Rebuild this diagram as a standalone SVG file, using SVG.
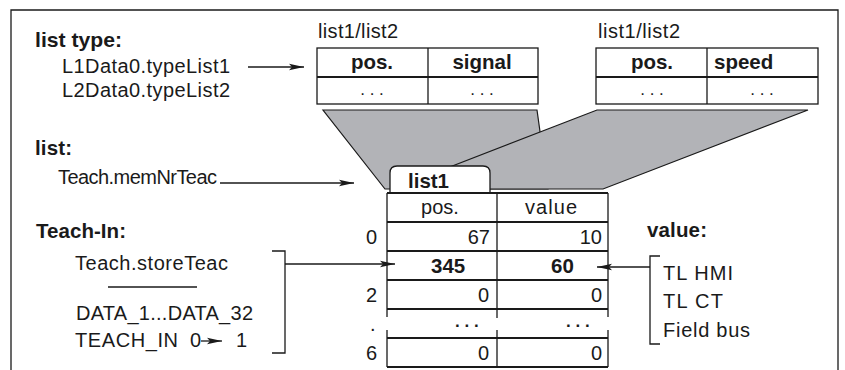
<svg xmlns="http://www.w3.org/2000/svg" width="845" height="370" viewBox="0 0 845 370">
<style>
text{font-family:"Liberation Sans",Arial,sans-serif;fill:#1a1a1a}
.t{font-size:20px}
.b{font-size:20.5px;font-weight:bold}
.m{font-size:17px}
.mb{font-size:17px;font-weight:bold}
.ln{stroke:#1a1a1a;stroke-width:1.3;fill:none}
.thick{stroke:#1a1a1a;stroke-width:2.2;fill:none}
.gray{fill:#b2b3b7;stroke:#1a1a1a;stroke-width:1.2}
.c{text-anchor:middle}
.r{text-anchor:end}
</style>
<defs>
<marker id="ah" markerUnits="userSpaceOnUse" markerWidth="16" markerHeight="8" refX="15" refY="4" orient="auto">
<path d="M0,0.8 L15,4 L0,7.2 L3,4 Z" fill="#1a1a1a"/>
</marker>
</defs>
<rect width="845" height="370" fill="#fff"/>
<g id="frame"><path class="ln" d="M11,372 V10 H838 V372" stroke-width="1.5"/></g>

<g id="funnel">
<polygon class="gray" points="323,110 537,110 548,189 385,189"/>
<polygon class="gray" points="597,110 808,110 603,189 393,189"/>
</g>

<g id="labels-left">
<text class="b" x="35" y="47" textLength="87" lengthAdjust="spacingAndGlyphs">list type:</text>
<text class="t" x="62" y="73" textLength="168">L1Data0.typeList1</text>
<text class="t" x="62" y="97" textLength="168">L2Data0.typeList2</text>
<text class="b" x="35" y="155" textLength="37">list:</text>
<text class="t" x="58" y="184" textLength="159">Teach.memNrTeac</text>
<text class="b" x="36" y="238" textLength="90">Teach-In:</text>
<text class="t" x="75" y="270" textLength="153">Teach.storeTeac</text>
<line class="ln" x1="108" y1="287" x2="197" y2="287"/>
<text class="t" x="76" y="320" textLength="177">DATA_1...DATA_32</text>
<text class="t" x="75" y="347" textLength="103">TEACH_IN</text>
<text class="t" x="190" y="347">0</text>
<line class="ln" x1="201" y1="341" x2="222" y2="341" marker-end="url(#ah)"/>
<text class="t" x="236" y="347">1</text>
</g>

<g id="table-type1">
<text class="t" x="318" y="38" textLength="80">list1/list2</text>
<rect class="ln" x="317" y="48" width="221" height="56"/>
<line class="thick" x1="317" y1="77" x2="538" y2="77" stroke-width="2.6"/>
<line class="ln" x1="428" y1="48" x2="428" y2="104"/>
<text class="b c" x="372" y="69">pos.</text>
<text class="b c" x="482" y="69">signal</text>
<text class="m c" x="372" y="95">. . .</text>
<text class="m c" x="482" y="95">. . .</text>
</g>

<g id="table-type2">
<text class="t" x="598" y="38" textLength="82">list1/list2</text>
<rect class="ln" x="596" y="48" width="222" height="56"/>
<line class="thick" x1="596" y1="77" x2="818" y2="77" stroke-width="2.6"/>
<line class="ln" x1="707" y1="48" x2="707" y2="104"/>
<text class="b c" x="652" y="69">pos.</text>
<text class="b" x="714" y="69">speed</text>
<text class="m c" x="652" y="95">. . .</text>
<text class="m c" x="762" y="95">. . .</text>
</g>

<g id="list1">
<path d="M390,193 V173 Q390,166 397,166 H483 Q490,166 490,173 V193" fill="#fff" stroke="#1a1a1a" stroke-width="1.3"/>
<text class="b" x="408" y="188">list1</text>
<rect x="387" y="193" width="221" height="174" fill="#fff"/>
<g class="thick">
<line x1="387" y1="193" x2="608" y2="193"/>
<line x1="387" y1="222" x2="608" y2="222"/>
<line x1="387" y1="251" x2="608" y2="251"/>
<line x1="387" y1="280" x2="608" y2="280"/>
<line x1="387" y1="309" x2="608" y2="309"/>
<line x1="387" y1="338" x2="608" y2="338"/>
<line x1="387" y1="367" x2="608" y2="367"/>
</g>
<g class="ln">
<path d="M387,193 V309 M387,338 V367 M497,193 V309 M497,338 V367 M608,193 V309 M608,338 V367"/>
<path d="M387,309 V317 M387,330 V338 M497,309 V318 M497,330 V338 M608,309 V317 M608,330 V338"/>
</g>
<text class="t c" x="440" y="214">pos.</text>
<text class="t c" x="551" y="214" textLength="52">value</text>
<text class="t r" x="490" y="244">67</text>
<text class="t r" x="602" y="244">10</text>
<text class="b" x="431" y="273">345</text>
<text class="b" x="551" y="273">60</text>
<text class="t r" x="489" y="302">0</text>
<text class="t r" x="602" y="302">0</text>
<text class="mb" x="455" y="327">. . .</text>
<text class="mb" x="566" y="327">. . .</text>
<text class="t r" x="489" y="360">0</text>
<text class="t r" x="602" y="360">0</text>
<text class="t" x="366" y="244">0</text>
<text class="t" x="366" y="302">2</text>
<text class="t" x="370" y="331">.</text>
<text class="t" x="366" y="360">6</text>
</g>

<g id="value-source">
<text class="b" x="647" y="237" textLength="60">value:</text>
<text class="t" x="663" y="280" textLength="70">TL HMI</text>
<text class="t" x="663" y="308" textLength="60">TL CT</text>
<text class="t" x="663" y="337" textLength="87">Field bus</text>
<path class="ln" d="M660,256 H650 V344 H660"/>
</g>

<g id="teach-bracket">
<path class="ln" d="M272,251 H285 V353 H272"/>
</g>

<g id="connectors">
<line class="ln" x1="248" y1="67" x2="304" y2="67" marker-end="url(#ah)"/>
<line class="ln" x1="220" y1="183" x2="354" y2="183" marker-end="url(#ah)"/>
<line class="ln" x1="285" y1="264" x2="395" y2="264" marker-end="url(#ah)"/>
<line class="ln" x1="650" y1="267" x2="597" y2="267" marker-end="url(#ah)"/>
</g>
</svg>
